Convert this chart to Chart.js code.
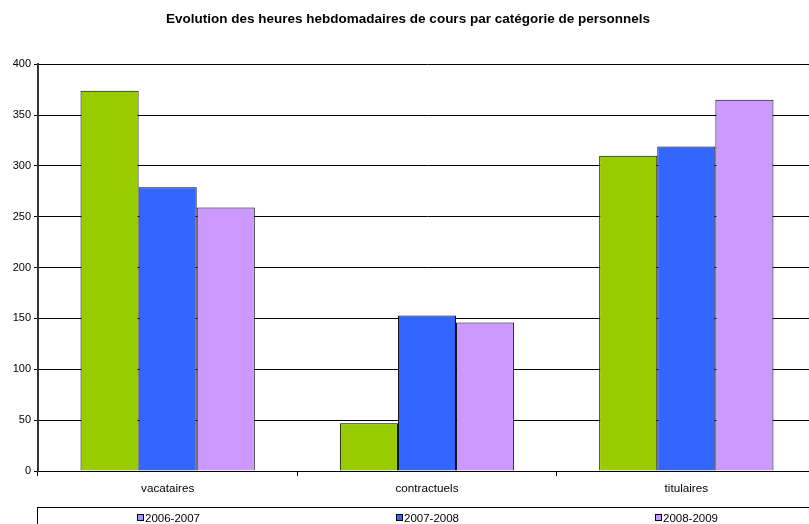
<!DOCTYPE html>
<html>
<head>
<meta charset="utf-8">
<script src="https://cdn.jsdelivr.net/npm/chart.js@4"></script>
<style>
    html, body { margin: 0; padding: 0; overflow: hidden; background: #ffffff; }
    #wrap { width: 816px; height: 524px; position: relative; }
</style>
</head>
<body>
<div id="wrap"><canvas id="chart"></canvas></div>
<script>
const titleText = 'Evolution des heures hebdomadaires de cours par catégorie de personnels';
const categories = ['vacataires', 'contractuels', 'titulaires'];
const seriesLabels = ['2006-2007', '2007-2008', '2008-2009'];
const values0607 = [374, 47, 310];
const values0708 = [279, 153, 319];
const values0809 = [259, 146, 365];
const barColors = ['#99CC00', '#3366FF', '#CC99FF'];
// the legend in the original shows a different swatch for the first series
const legendColors = ['#9999FF', '#3366FF', '#CC99FF'];

const FONT = 'Arial, "Liberation Sans", sans-serif';

// hand-drawn legend box under the x axis
const boxLegend = {
    id: 'boxLegend',
    afterDraw(chart) {
        const ctx = chart.ctx;
        const area = chart.chartArea;
        const top = 507.5;
        ctx.save();
        ctx.strokeStyle = '#000';
        ctx.lineWidth = 1;
        ctx.strokeRect(area.left - 0.5, top, area.right - area.left, 30);
        const colW = (area.right - area.left) / seriesLabels.length;
        ctx.font = '11.5px ' + FONT;
        ctx.textBaseline = 'middle';
        seriesLabels.forEach((label, i) => {
            const cx = area.left + colW * (i + 0.5);
            const x = Math.round(cx - 31);
            const y = 518;
            ctx.fillStyle = legendColors[i];
            ctx.fillRect(x, y - 3, 6, 6);
            ctx.strokeStyle = '#000';
            ctx.strokeRect(x + 0.5, y - 3.5, 6, 6);
            ctx.fillStyle = '#000';
            ctx.fillText(label, x + 8, y + 0.5);
        });
        ctx.restore();
    }
};

const datasets = [values0607, values0708, values0809].map((vals, i) => ({
    label: seriesLabels[i],
    data: vals,
    backgroundColor: barColors[i],
    borderColor: '#000000',
    borderWidth: 1,
    borderSkipped: 'bottom',
    barPercentage: 1.0,
    categoryPercentage: 0.672
}));

new Chart(document.getElementById('chart'), {
    type: 'bar',
    data: { labels: categories, datasets: datasets },
    options: {
        responsive: true,
        maintainAspectRatio: false,
        animation: false,
        layout: { padding: 0 },
        scales: {
            x: {
                afterFit: (scale) => { scale.height = 53; },
                grid: { drawOnChartArea: false, drawTicks: true, tickLength: 5, color: '#000', offset: true },
                border: { color: '#000', width: 1 },
                ticks: { color: '#000', font: { family: FONT, size: 11.7 }, padding: 6 }
            },
            y: {
                min: 0,
                max: 400,
                afterFit: (scale) => { scale.width = 38; },
                grid: { color: '#000', tickLength: 4, lineWidth: 1 },
                border: { color: '#333', width: 2 },
                ticks: { stepSize: 50, color: '#000', font: { family: FONT, size: 11 }, padding: 3 }
            }
        },
        plugins: {
            legend: { display: false },
            tooltip: { enabled: false },
            title: {
                display: true,
                text: titleText,
                color: '#000',
                font: { family: FONT, size: 13.5, weight: 'bold' },
                padding: { top: 11, bottom: 37 }
            }
        }
    },
    plugins: [boxLegend]
});
</script>
</body>
</html>
